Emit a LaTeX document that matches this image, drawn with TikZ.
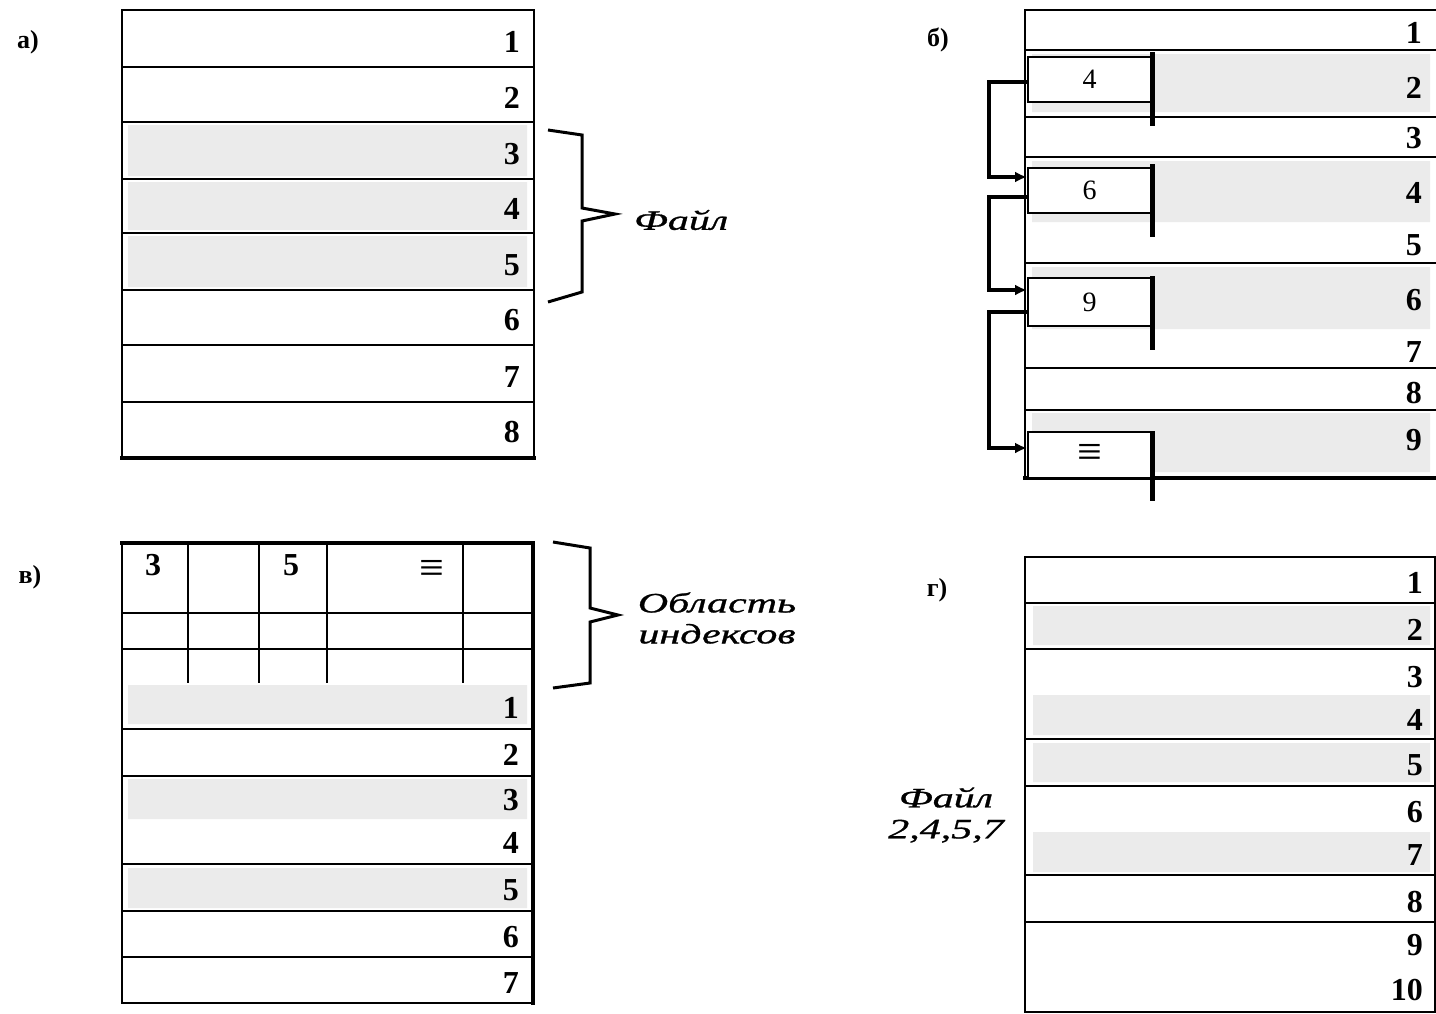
\documentclass[tikz,border=0pt]{standalone}
\usepackage{fontspec}
\setmainfont{Liberation Serif}
\newfontfamily\widefont[FakeStretch=1.5,FakeBold=1]{Liberation Serif}
\usetikzlibrary{arrows.meta,positioning}
\definecolor{cellgray}{gray}{0.92}

\begin{document}
\begin{tikzpicture}[x=1pt,y=-1pt,line width=2.2pt,num/.style={anchor=base east,inner sep=0pt,font=\fontsize{32}{32}\selectfont\bfseries},panel/.style={inner sep=0pt,font=\fontsize{26}{26}\selectfont\bfseries},ptr/.style={draw,fill=white,line width=2pt,minimum width=123pt,inner sep=0pt,font=\fontsize{28}{28}\selectfont},bar/.style={line width=5pt},link/.style={-{Latex[length=12pt,width=11pt]},line width=3.5pt},brace/.style={line width=3pt},note/.style={align=center,inner sep=0pt,font=\widefont\itshape\fontsize{28}{31}\selectfont},nil/.style={font=\fontsize{44}{44}\selectfont}]
\useasboundingbox (0,0) rectangle (1436,1013);
% a) contiguous file
\fill[cellgray] (128,125) rectangle (527,176) (128,182) rectangle (527,230) (128,236) rectangle (527,287);
\draw (122,10) rectangle (534,458);
\draw (122,67)--(534,67) (122,122)--(534,122) (122,179)--(534,179) (122,233)--(534,233) (122,290)--(534,290) (122,345)--(534,345) (122,402)--(534,402);
\draw[line width=3.5pt] (120,458)--(536,458);
\node[panel] (la) at (28,42) {а)};
\node[num] (a1) at (521,52) {1}; \node[num] (a2) at (521,108) {2}; \node[num] (a3) at (521,164) {3}; \node[num] (a4) at (521,219) {4};
\node[num] (a5) at (521,275) {5}; \node[num] (a6) at (521,330) {6}; \node[num] (a7) at (521,387) {7}; \node[num] (a8) at (521,442) {8};
\draw[brace] (548,130)--(582,135)--(582,208)--(615,214)--(582,221)--(582,292)--(548,302);
\node[note,anchor=west] (fa) at (633,220) {Файл};
% b) linked list
\fill[cellgray] (1032,54) rectangle (1430,112) (1032,161) rectangle (1430,222) (1032,267) rectangle (1430,329) (1032,413) rectangle (1430,472);
\draw (1025,10) rectangle (1440,478);
\draw (1025,50)--(1440,50) (1025,117)--(1440,117) (1025,157)--(1440,157) (1025,263)--(1440,263) (1025,368)--(1440,368) (1025,410)--(1440,410);
\draw[line width=3.5pt] (1023,478)--(1440,478);
\node[ptr,minimum height=45pt] (p4) at (1089.5,79.5) {4};
\node[ptr,minimum height=45pt] (p6) at (1089.5,190.5) {6};
\node[ptr,minimum height=48pt] (p9) at (1089.5,302) {9};
\node[ptr,minimum height=46pt,nil] (pnil) at (1089.5,455) {\raisebox{-6pt}{≡}};
\draw[bar] ([yshift=4pt]p4.north east)--([yshift=-23pt]p4.south east);
\draw[bar] ([yshift=3pt]p6.north east)--([yshift=-23pt]p6.south east);
\draw[bar] ([yshift=1pt]p9.north east)--([yshift=-23pt]p9.south east);
\draw[bar] (pnil.north east)--([yshift=-22pt]pnil.south east);
\draw[link] ([yshift=-2.5pt]p4.west)--++(-38,0)|-([yshift=13.5pt]p6.west);
\draw[link] ([yshift=-6.5pt]p6.west)--++(-38,0)|-([yshift=12pt]p9.west);
\draw[link] ([yshift=-10pt]p9.west)--++(-38,0)|-([yshift=7pt]pnil.west);
\node[panel] (lb) at (938,40) {б)};
\node[num] (b1) at (1423,43) {1}; \node[num] (b2) at (1423,98) {2}; \node[num] (b3) at (1423,148) {3}; \node[num] (b4) at (1423,203) {4}; \node[num] (b5) at (1423,255) {5};
\node[num] (b6) at (1423,310) {6}; \node[num] (b7) at (1423,362) {7}; \node[num] (b8) at (1423,403) {8}; \node[num] (b9) at (1423,450) {9};
% v) index area
\fill[cellgray] (128,685) rectangle (527,724) (128,779) rectangle (527,819) (128,868) rectangle (527,908);
\draw (122,543) rectangle (533,1003);
\draw[line width=4pt] (120,543)--(535,543) (533,541)--(533,1005);
\draw (122,613)--(533,613) (122,649)--(533,649) (188,543)--(188,683) (259,543)--(259,683) (327,543)--(327,683) (463,543)--(463,683);
\draw (122,729)--(533,729) (122,776)--(533,776) (122,864)--(533,864) (122,911)--(533,911) (122,957)--(533,957);
\node[num,anchor=base] (i3) at (153,575) {3}; \node[num,anchor=base] (i5) at (291,575) {5}; \node[nil,inner sep=0pt] (inil) at (432,571) {≡};
\node[panel] (lv) at (30,577) {в)};
\node[num] (v1) at (520,718) {1}; \node[num] (v2) at (520,765) {2}; \node[num] (v3) at (520,810) {3}; \node[num] (v4) at (520,853) {4};
\node[num] (v5) at (520,900) {5}; \node[num] (v6) at (520,947) {6}; \node[num] (v7) at (520,993) {7};
\draw[brace] (553,542)--(590,548)--(590,608)--(618,615)--(590,622)--(590,683)--(553,688);
\node[note] (obl) at (717,618) {Область\\индексов};
% g) scattered blocks
\fill[cellgray] (1033,606) rectangle (1430,645) (1033,695) rectangle (1430,735) (1033,743) rectangle (1430,782) (1033,832) rectangle (1430,872);
\draw (1025,557) rectangle (1435,1012);
\draw (1025,603)--(1435,603) (1025,649)--(1435,649) (1025,739)--(1435,739) (1025,786)--(1435,786) (1025,875)--(1435,875) (1025,922)--(1435,922);
\node[panel] (lg) at (937,590) {г)};
\node[num] (g1) at (1424,593) {1}; \node[num] (g2) at (1424,640) {2}; \node[num] (g3) at (1424,687) {3}; \node[num] (g4) at (1424,730) {4}; \node[num] (g5) at (1424,775) {5};
\node[num] (g6) at (1424,822) {6}; \node[num] (g7) at (1424,865) {7}; \node[num] (g8) at (1424,912) {8}; \node[num] (g9) at (1424,955) {9}; \node[num] (g10) at (1424,1000) {10};
\node[note] (fg) at (946,815) {Файл\\2,4,5,7};
\end{tikzpicture}
\end{document}
